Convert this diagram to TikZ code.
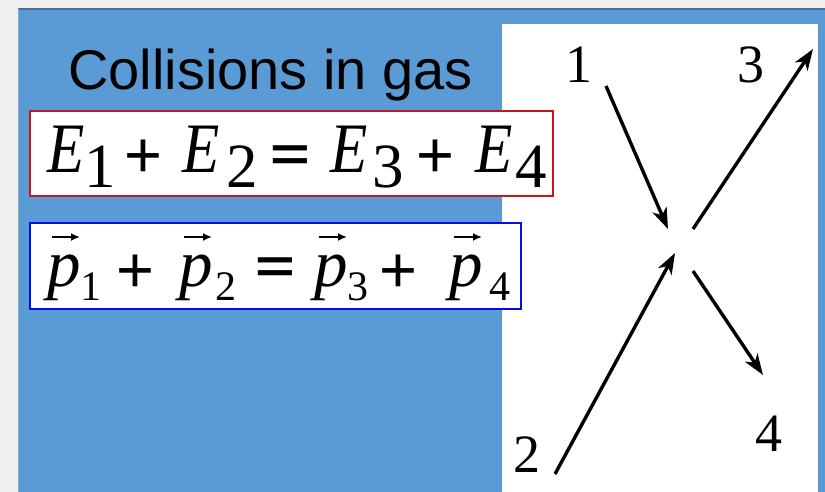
\documentclass[tikz,border=0pt]{standalone}
\usepackage{fontspec}
\setmainfont{Liberation Serif}
\newfontfamily\arialf{Liberation Sans}
\usetikzlibrary{arrows.meta,calc}
\definecolor{bgray}{HTML}{F0F0F0}
\definecolor{panelblue}{HTML}{5B9BD5}
\definecolor{paneledge}{HTML}{41719C}
\definecolor{boxred}{HTML}{C8141E}
\definecolor{boxblue}{HTML}{0A0AE6}
\tikzset{
  bigE/.style={anchor=base west, inner sep=0pt, font=\fontsize{71}{71}\selectfont\itshape},
  bigP/.style={anchor=base west, inner sep=0pt, font=\fontsize{67}{67}\selectfont\itshape},
  esub/.style={anchor=base, inner sep=0pt, font=\fontsize{63}{63}\selectfont},
  psub/.style={anchor=base, inner sep=0pt, font=\fontsize{42}{42}\selectfont},
  plusop/.style={anchor=base, inner sep=0pt, font=\arialf\fontsize{65}{65}\selectfont},
  eqop/.style={anchor=base, inner sep=0pt, font=\arialf\bfseries\fontsize{68}{68}\selectfont},
  vecarrow/.style={line width=1.8pt, -{Latex[length=9pt,width=8pt]}},
  numlabel/.style={anchor=base, inner sep=0pt, font=\fontsize{54}{54}\selectfont},
  track/.style={line width=3.4pt, -{Stealth[length=21pt,width=15pt,inset=6pt]}},
  eqbox/.style={line width=2pt, fill=white}
}
\newcommand\flateq{\scalebox{1}[0.7]{=}}
\newcommand\narrowE{\scalebox{0.86}[1]{E}}
\begin{document}
\begin{tikzpicture}[x=1pt,y=-1pt]
\useasboundingbox (0,0) rectangle (825,492);
\fill[bgray] (0,0) rectangle (825,492);
\fill[panelblue] (18,9) rectangle (825,492);
\draw[paneledge, line width=1.5pt] (18,9) -- (825,9);
\draw[paneledge!60, line width=1pt] (18,9) -- (18,492);
\fill[white] (502,24) rectangle (818,492);
% title
\node[anchor=base west, inner sep=0pt, font=\arialf\fontsize{56}{56}\selectfont] (title) at (68,90) {Collisions in gas};
% boxes
\draw[eqbox, draw=boxred] (30,111) rectangle (553,196);
\draw[eqbox, draw=boxblue] (30,223) rectangle (521,309);
% energy equation
\node[bigE] (E1) at (47,172) {\narrowE};
\node[esub] (E1s) at (100.5,188) {1};
\node[plusop] (Ep1) at (143.5,177.6) {+};
\node[bigE] (E2) at (182,172) {\narrowE};
\node[esub] (E2s) at (242,188) {2};
\node[eqop] (Eeq) at (290.5,170.6) {\flateq};
\node[bigE] (E3) at (330,172) {\narrowE};
\node[esub] (E3s) at (388.5,188) {3};
\node[plusop] (Ep2) at (435.5,177.6) {+};
\node[bigE] (E4) at (475,172) {\narrowE};
\node[esub] (E4s) at (531.5,188) {4};
% momentum equation
\node[bigP] (p1) at (47,286) {p};
\node[psub] (p1s) at (91,300) {1};
\node[plusop] (pp1) at (135,292.6) {+};
\node[bigP] (p2) at (179,286) {p};
\node[psub] (p2s) at (226,300) {2};
\node[eqop] (peq) at (275,282.6) {\flateq};
\node[bigP] (p3) at (314,286) {p};
\node[psub] (p3s) at (358,300) {3};
\node[plusop] (pp2) at (398,292.6) {+};
\node[bigP] (p4) at (449,286) {p};
\node[psub] (p4s) at (499.5,300) {4};
\foreach \n in {p1,p2,p3,p4}
  \draw[vecarrow] ($(\n.base west)+(5,-49)$) -- ++(28,0);
% particle labels
\node[numlabel] (l1) at (579,83) {1};
\node[numlabel] (l3) at (751,83) {3};
\node[numlabel] (l2) at (527,472) {2};
\node[numlabel] (l4) at (769,451) {4};
% tracks
\coordinate (a1) at (606,86);
\coordinate (b1) at (668,229);
\coordinate (a3) at (693,229);
\coordinate (b3) at (813,49);
\coordinate (a2) at (555,474);
\coordinate (b2) at (675,253);
\coordinate (a4) at (693,271);
\coordinate (b4) at (763,375);
\draw[track] (a1) -- (b1);
\draw[track] (a3) -- (b3);
\draw[track] (a2) -- (b2);
\draw[track] (a4) -- (b4);
\end{tikzpicture}
\end{document}
